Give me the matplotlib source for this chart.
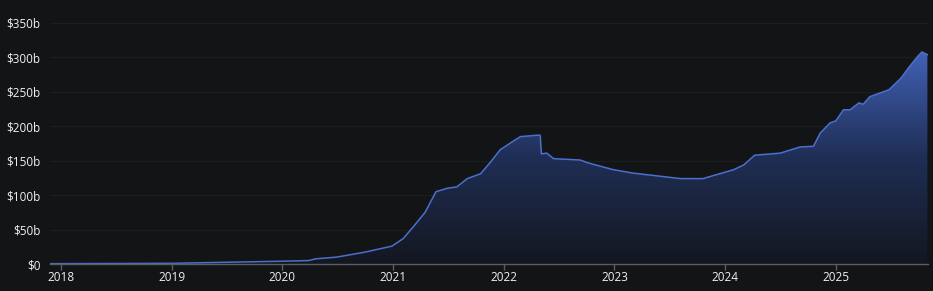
import matplotlib
matplotlib.use("Agg")
import matplotlib.pyplot as plt
import matplotlib.dates as mdates
from matplotlib.ticker import FuncFormatter
from matplotlib.colors import LinearSegmentedColormap
import numpy as np
import pandas as pd

dates = ["2017-11-25", "2018-07-01", "2019-01-01", "2019-06-27", "2019-12-28",
         "2020-03-28", "2020-04-20", "2020-06-28", "2020-09-27", "2020-12-28",
         "2021-02-03", "2021-03-10", "2021-04-16", "2021-05-22", "2021-06-28",
         "2021-07-30", "2021-09-02", "2021-10-16", "2021-11-18", "2021-12-20",
         "2022-02-03", "2022-02-25", "2022-04-20", "2022-05-01", "2022-05-05",
         "2022-05-23", "2022-06-14", "2022-09-10", "2022-10-05", "2022-12-28",
         "2023-03-04", "2023-08-08", "2023-10-20", "2024-01-30", "2024-03-03",
         "2024-04-08", "2024-07-01", "2024-09-05", "2024-10-19", "2024-11-10",
         "2024-12-13", "2025-01-01", "2025-01-26", "2025-02-17", "2025-03-18",
         "2025-04-01", "2025-04-23", "2025-06-06", "2025-06-25", "2025-08-04",
         "2025-08-29", "2025-09-27", "2025-10-12", "2025-10-30"]
values = [0.5, 0.7, 1.0, 2.5, 4, 5, 7.5, 10, 17, 26,
          37, 55, 75, 105, 110, 112, 124, 131, 148, 166,
          179, 185, 187, 187, 160, 161, 153, 151, 147, 137,
          132, 124, 124, 137, 144, 158, 161, 170, 171, 190,
          205, 208, 224, 224, 234, 232, 243, 250, 253, 270,
          285, 301, 308, 304]
y_ticks = [0, 50, 100, 150, 200, 250, 300, 350]
x_years = [2018, 2019, 2020, 2021, 2022, 2023, 2024, 2025]

bg = "#131416"
plt.rcParams['font.family'] = ['Open Sans', 'DejaVu Sans']

x = mdates.date2num(pd.to_datetime(dates))
y = np.array(values, dtype=float)

fig = plt.figure(figsize=(9.33, 2.91), dpi=100, facecolor=bg)
ax = fig.add_axes([50/933, 27/291, 878/933, 241/291])
ax.set_facecolor(bg)

xmin = mdates.date2num(pd.Timestamp("2017-11-25"))
xmax = mdates.date2num(pd.Timestamp("2025-11-01"))
ymax = 350

# gradient fill
poly = ax.fill_between(x, y, 0, color="none", lw=0)
grad = np.linspace(1, 0, 256).reshape(-1, 1)
cmap = LinearSegmentedColormap.from_list("g", [(0, "#141720"), (0.5, "#1f2e55"), (1, "#4262b8")])
im = ax.imshow(grad, extent=[xmin, xmax, 0, 310], aspect="auto", cmap=cmap,
               origin="upper", zorder=1, vmin=0, vmax=1)
path = poly.get_paths()[0]
im.set_clip_path(path, transform=ax.transData)

ax.plot(x, y, color="#4b6fcc", lw=1.1, zorder=3)

ax.set_xlim(xmin, xmax)
ax.set_ylim(0, ymax)
ax.set_yticks(y_ticks)
ax.yaxis.set_major_formatter(FuncFormatter(lambda v, p: "$0" if v == 0 else f"${int(v)}b"))
ax.set_xticks([mdates.date2num(pd.Timestamp(f"{yr}-01-01")) for yr in x_years])
ax.set_xticklabels([str(yr) for yr in x_years])

for v in y_ticks[1:]:
    ax.axhline(v, color="#1d1e21", lw=0.8, zorder=0)

for s in ["top", "right", "left"]:
    ax.spines[s].set_visible(False)
ax.spines["bottom"].set_color("#5a5d63")
ax.spines["bottom"].set_linewidth(1)
ax.spines["bottom"].set_zorder(4)

ax.tick_params(axis="y", length=0, colors="#f0f0f0", labelsize=8.5, pad=7)
ax.tick_params(axis="x", length=4, width=1, color="#5a5d63", colors="#f0f0f0",
               labelsize=8.5, pad=1)
for lbl in ax.get_xticklabels() + ax.get_yticklabels():
    lbl.set_color("#f0f0f0")

fig.savefig("out.png", dpi=100, facecolor=bg)
